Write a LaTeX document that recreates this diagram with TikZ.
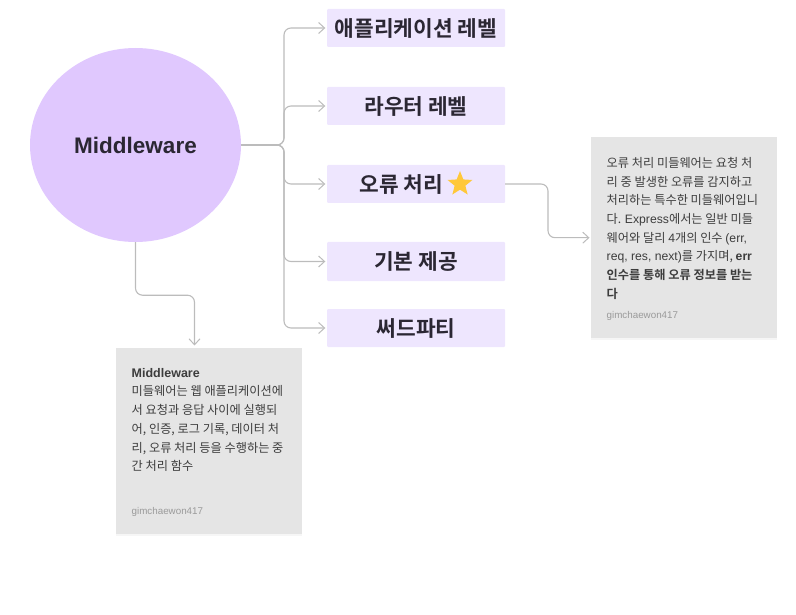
\documentclass[tikz,border=0pt]{standalone}
\usepackage{fontspec}
\setmainfont{Noto Sans CJK KR}[BoldFont={Noto Sans CJK KR Bold}]
\newfontfamily\lat{Liberation Sans}
\usetikzlibrary{arrows.meta,shapes.geometric,shadows,calc}
\definecolor{circ}{HTML}{E0C8FE}
\definecolor{lev}{HTML}{EEE6FE}
\definecolor{ink}{HTML}{2B2733}
\definecolor{notefill}{HTML}{E5E5E5}
\definecolor{notetext}{HTML}{3D3D3D}
\definecolor{notesub}{HTML}{9A9A9A}
\definecolor{wire}{HTML}{BCBCBC}
\definecolor{starfill}{HTML}{FFC83A}
\tikzset{
  x=1pt,y=-1pt,
  level/.style={fill=lev,rounded corners=1pt,minimum width=178pt,minimum height=38pt,inner sep=0pt,text=ink,font=\fontsize{21.4}{24}\selectfont\bfseries},
  note/.style={fill=notefill,inner sep=0pt,anchor=north west,drop shadow={opacity=.07,shadow xshift=0pt,shadow yshift=-1.5pt}},
  notebody/.style={anchor=north west,inner sep=0pt,align=left,text=notetext,font=\fontsize{12.2}{18.7}\selectfont},
  sub/.style={anchor=west,inner sep=0pt,text=notesub,font=\lat\fontsize{9.8}{12}\selectfont},
  link/.style={draw=wire,line width=1.1pt,rounded corners=7pt},
  linkto/.style={link,shorten >=1.5pt,-{Straight Barb[length=6pt,width=11pt,line width=1pt]}}
}
\begin{document}
\begin{tikzpicture}
\useasboundingbox (0,0) rectangle (796,615);
\node[ellipse,fill=circ,minimum width=211pt,minimum height=194pt,inner sep=0pt,text=ink,font=\lat\fontsize{22.5}{24}\selectfont\bfseries] (mw) at (135.5,145) {Middleware};

\node[level] (app) at (416,28) {애플리케이션 레벨};
\node[level] (router) at (416,106) {라우터 레벨};
\node[level] (err) at (416,184) {\hspace*{-29pt}오류 처리};
\node[star,star points=5,star point ratio=2.3,fill=starfill,minimum size=26pt,inner sep=0pt] (star) at (460,184) {};
\node[level,minimum height=39pt] (basic) at (416,261.5) {기본 제공};
\node[level] (third) at (416,328) {써드파티};

\node[note,minimum width=186pt,minimum height=186pt] (n1) at (116,348) {};
\node[note,minimum width=186pt,minimum height=201pt] (n2) at (591,137) {};

\node[notebody] (n1text) at (131.5,368) {{\lat\bfseries\fontsize{12.5}{18.7}\selectfont Middleware}\\
미들웨어는 웹 애플리케이션에\\
서 요청과 응답 사이에 실행되\\
어, 인증, 로그 기록, 데이터 처\\
리, 오류 처리 등을 수행하는 중\\
간 처리 함수};
\node[sub] (n1sub) at (131.5,511.5) {gimchaewon417};

\node[notebody] (n2text) at (606.5,157) {오류 처리 미들웨어는 요청 처\\
리 중 발생한 오류를 감지하고\\
처리하는 특수한 미들웨어입니\\
다. {\lat Express}에서는 일반 미들\\
웨어와 달리 {\lat 4}개의 인수 {\lat (err,}\\
{\lat req, res, next)}를 가지며, {\bfseries\lat err}\\
\textbf{인수를 통해 오류 정보를 받는}\\
\textbf{다}};
\node[sub] (n2sub) at (606.5,315.5) {gimchaewon417};

\coordinate (trunk) at (284,145);
\coordinate (n1top) at (194.5,347);
\coordinate (errbend) at (548,184);
\draw[linkto] (mw.east) -- (trunk) |- (app.west);
\draw[linkto] (mw.east) -- (trunk) |- (router.west);
\draw[linkto] (mw.east) -- (trunk) |- (err.west);
\draw[linkto] (mw.east) -- (trunk) |- (basic.west);
\draw[linkto] (mw.east) -- (trunk) |- (third.west);
\draw[linkto] (mw.south) -- ++(0,53) -| (n1top);
\draw[linkto] (err.east) -- (errbend) |- (n2.west);
\end{tikzpicture}
\end{document}
